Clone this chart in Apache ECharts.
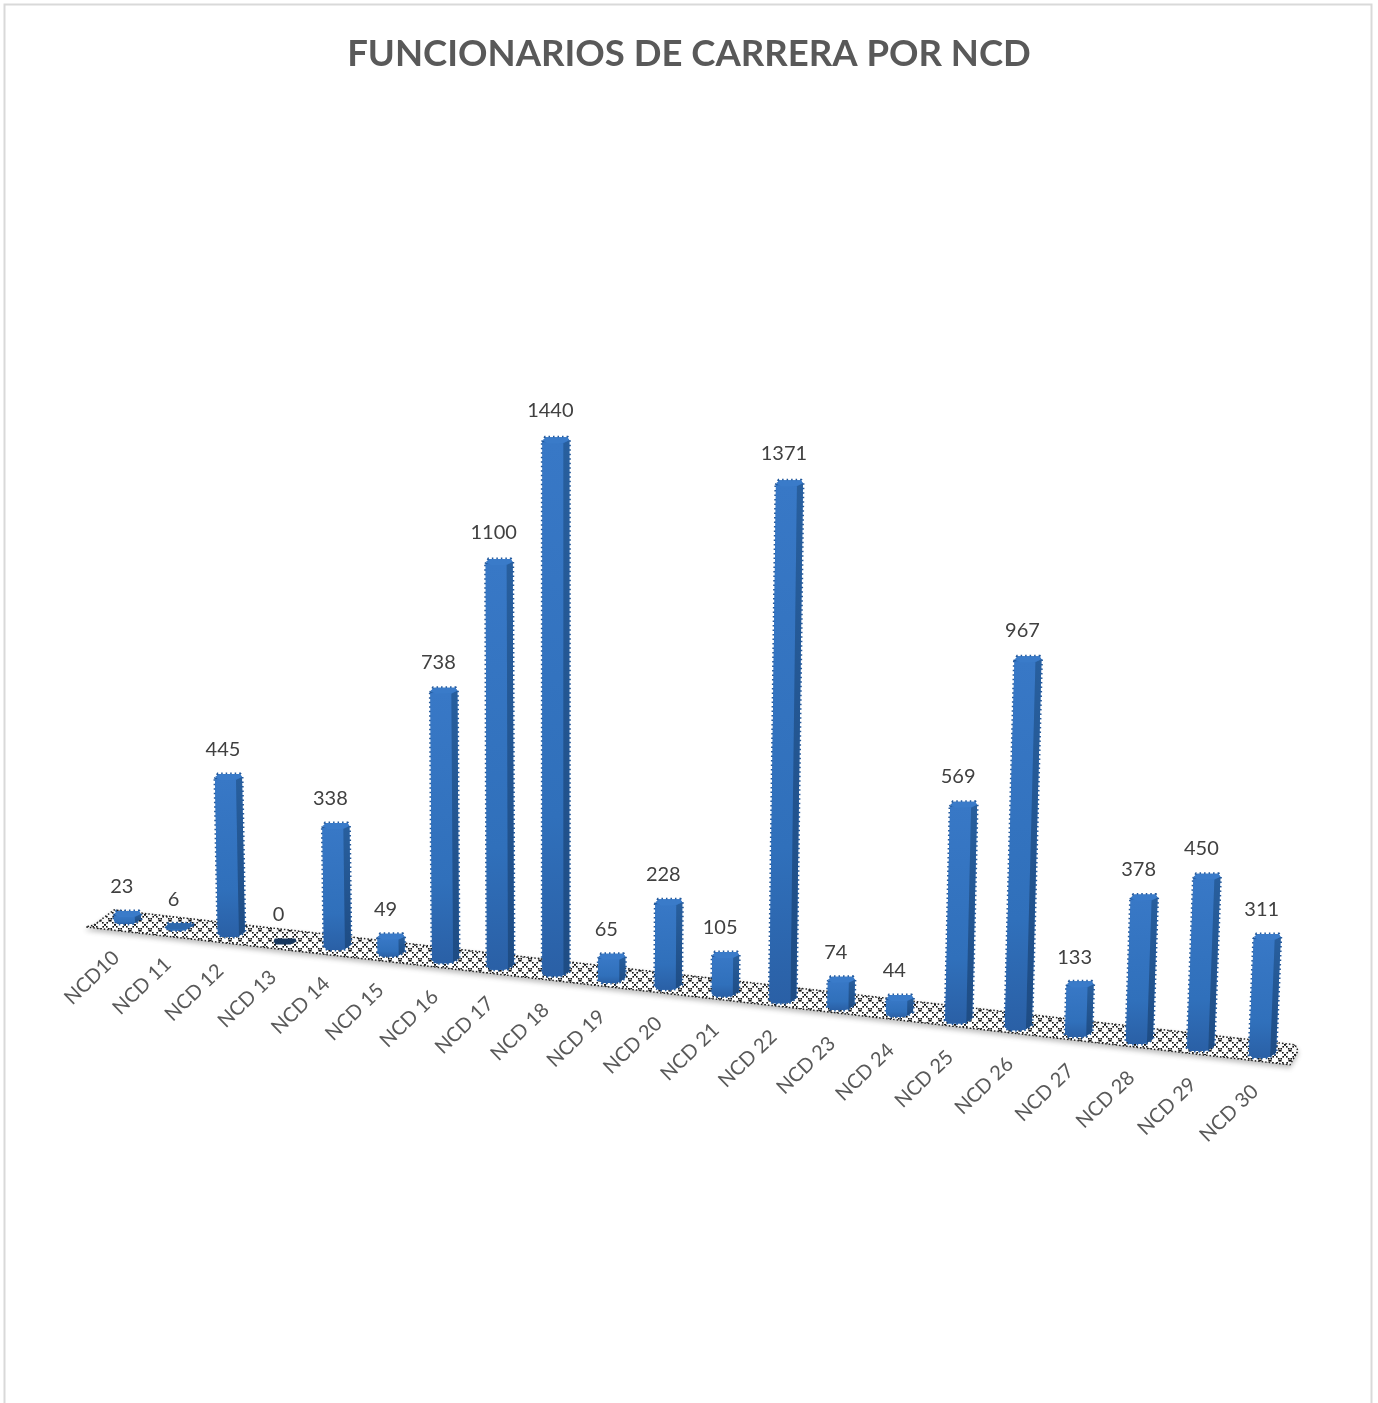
<!DOCTYPE html>
<html>
<head>
    <meta charset="utf-8">
    <title>Funcionarios de carrera por NCD</title>
    <style>
        html, body { margin: 0; padding: 0; background: #fff; }
        #echart { width: 1378px; height: 1403px; }
    </style>
</head>
<body>
<script src="https://cdn.jsdelivr.net/npm/echarts@6/dist/echarts.min.js"></script>
<div id="echart"></div>
<script>
    var categories = ["NCD10", "NCD 11", "NCD 12", "NCD 13", "NCD 14", "NCD 15", "NCD 16", "NCD 17", "NCD 18", "NCD 19", "NCD 20",
        "NCD 21", "NCD 22", "NCD 23", "NCD 24", "NCD 25", "NCD 26", "NCD 27", "NCD 28", "NCD 29", "NCD 30"];
    var values = [23, 6, 445, 0, 338, 49, 738, 1100, 1440, 65, 228, 105, 1371, 74, 44, 569, 967, 133, 378, 450, 311];

    var fontName = "Lato";
    var gridLeft = 128, gridWidth = 1135;

    // the original is an Excel 3D column chart, so the flat axes get bent into its perspective here
    function project(api, i, v) {
        var base = api.coord([i, 0]);
        var p = api.coord([i, v]);
        var u = (base[0] - gridLeft) / gridWidth;
        var x = base[0] - 107 * u * (1 - u);
        var y = base[1] + 6.45 * i + 0.012 * i * i;
        var depth = 1 + 0.0105 * i - 0.00028 * i * i;
        var h = (base[1] - p[1]) * depth;
        return {x: x, y: y, h: h, lean: h * (x - 555) * 0.000056};
    }

    // dotted lattice of the floor
    function floorPattern() {
        var c = document.createElement("canvas");
        c.width = 10;
        c.height = 10;
        var ctx = c.getContext("2d");
        ctx.fillStyle = "#fff";
        ctx.fillRect(0, 0, 10, 10);
        ctx.fillStyle = "#111";
        for (var k = 0; k < 10; k += 2) {
            ctx.fillRect(k, k, 1.6, 1.6);
            ctx.fillRect(8.4 - k, k, 1.6, 1.6);
        }
        return c;
    }
    var floorImage = floorPattern();

    function renderFloor(params, api) {
        var a = project(api, 0, 0);
        var b = project(api, categories.length - 1, 0);
        return {
            type: "polygon",
            shape: {points: [
                [a.x - 34, a.y + 1], [a.x - 14, a.y - 14], [b.x + 32, b.y - 13], [b.x + 35, b.y - 7], [b.x + 27, b.y + 7], [a.x - 42, a.y + 3]
            ]},
            style: {
                fill: {image: floorImage, repeat: "repeat"},
                stroke: "#222",
                lineWidth: 1.5,
                lineDash: [1.5, 2],
                shadowColor: "rgba(0,0,0,0.25)",
                shadowBlur: 5,
                shadowOffsetY: 3
            }
        };
    }

    function renderBar(params, api) {
        var i = api.value(0);
        var v = api.value(1);
        var p = project(api, i, v);
        var xl = p.x - 14, xm = p.x + 7, xr = p.x + 13;
        var yb = p.y, yt = p.y - p.h - 5;
        var l = p.lean;
        var flat = v === 0;

        var frontFill = new echarts.graphic.LinearGradient(0, 0, 0, 1, [
            {offset: 0, color: "#3878c6"},
            {offset: 0.7, color: "#3070bb"},
            {offset: 1, color: "#2a60a6"}
        ]);
        var sideFill = new echarts.graphic.LinearGradient(0, 0, 0, 1, [
            {offset: 0, color: "#285f9e"},
            {offset: 1, color: "#1e4c84"}
        ]);
        var capFill = flat ? "#17375e" : (v < 10 ? "#2d68ad" : "#3a7bc9");

        var children = [];
        if (!flat) {
            var outline = [
                [xl + l, yt + 5], [xl + l + 3, yt], [xr + l - 2, yt], [xr + l, yt + 3],
                [xr, yb - 5], [xm, yb - 1], [xm - 4, yb], [xl + 4, yb], [xl, yb - 3]
            ];
            children.push({
                type: "polygon",
                shape: {points: outline},
                style: {fill: "#2f6fbc", stroke: "#23599c", lineWidth: 3, lineDash: [1.5, 3]}
            });
            children.push({
                type: "polygon",
                shape: {points: [[xl + l, yt + 5], [xm + l, yt + 6], [xm, yb - 1], [xm - 4, yb], [xl + 4, yb], [xl, yb - 3]]},
                style: {fill: frontFill}
            });
            children.push({
                type: "polygon",
                shape: {points: [[xm + l, yt + 6], [xr + l, yt + 3], [xr, yb - 5], [xm, yb - 1]]},
                style: {fill: sideFill}
            });
        }
        children.push({
            type: "polygon",
            shape: {points: [
                [xl + l + (flat ? 3 : 0), yt + 3], [xl + l + 4, yt], [xr + l - 2, yt], [xr + l - (flat ? 1 : 0), yt + 3], [xm + l - 1, yt + 6], [xl + l + 5, yt + 6]
            ]},
            style: {fill: capFill}
        });
        // value above the bar
        children.push({
            type: "text",
            style: {
                text: String(v),
                x: p.x + l - 6,
                y: yt - 24 - p.h * 0.005,
                fill: "#404040",
                font: "20px " + fontName,
                textAlign: "center",
                textVerticalAlign: "middle"
            }
        });
        // category name under the floor
        children.push({
            type: "text",
            rotation: 44 * Math.PI / 180,
            x: p.x - 12 + 0.2 * i,
            y: p.y + 30.5,
            style: {
                text: categories[i],
                x: 0,
                y: 0,
                fill: "#595959",
                font: "20px " + fontName,
                textAlign: "right",
                textVerticalAlign: "middle"
            }
        });
        return {type: "group", children: children};
    }

    var barData = values.map(function (v, i) {
        return [i, v];
    });

    var option = {
        backgroundColor: "#fff",
        animation: false,
        title: {
            text: "FUNCIONARIOS DE CARRERA POR NCD",
            left: "center",
            top: 31,
            textStyle: {fontFamily: fontName, fontSize: 36.5, fontWeight: "bold", color: "#595959"}
        },
        grid: {left: gridLeft, width: gridWidth, top: 402, height: 522},
        xAxis: {type: "category", data: categories, boundaryGap: false, show: false},
        yAxis: {type: "value", min: 0, max: 1500, show: false},
        graphic: [{
            type: "polyline",
            shape: {points: [[4.5, 1403], [4.5, 4.5], [1371.5, 4.5], [1371.5, 1403]]},
            style: {stroke: "#d9d9d9", lineWidth: 2, fill: null}
        }],
        series: [
            {type: "custom", silent: true, z: 1, data: [[0, 0]], renderItem: renderFloor},
            {type: "custom", silent: true, z: 2, data: barData, clip: false, renderItem: renderBar}
        ]
    };

    var myChart = echarts.init(document.getElementById("echart"));
    myChart.setOption(option);
</script>
</body>
</html>
